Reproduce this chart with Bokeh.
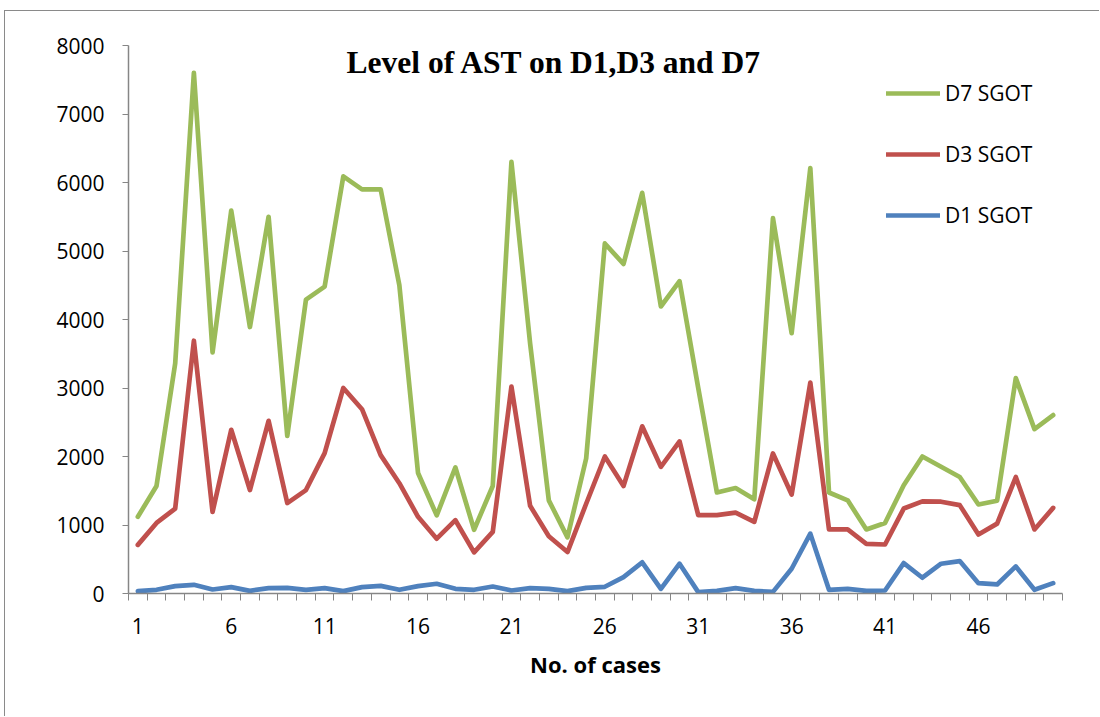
from bokeh.plotting import figure
from bokeh.models import Range1d, FixedTicker, Legend, LegendItem, Label, ColumnDataSource
from bokeh.embed import file_html
from bokeh.resources import INLINE

# ---- data ----
cases = list(range(1, 51))
d7_sgot = [1120, 1570, 3360, 7600, 3520, 5590, 3890, 5500, 2300, 4290,
           4480, 6090, 5900, 5900, 4500, 1760, 1140, 1840, 930, 1570,
           6300, 3650, 1360, 820, 1970, 5110, 4810, 5850, 4190, 4560,
           3000, 1475, 1540, 1375, 5480, 3800, 6210, 1475, 1360, 935,
           1030, 1580, 2000, 1850, 1700, 1300, 1355, 3145, 2400, 2605]
d3_sgot = [710, 1030, 1240, 3690, 1190, 2390, 1510, 2520, 1320, 1510,
           2050, 3000, 2690, 2020, 1610, 1120, 800, 1070, 600, 900,
           3020, 1280, 835, 605, 1310, 2000, 1570, 2440, 1850, 2220,
           1145, 1145, 1180, 1045, 2045, 1445, 3080, 935, 935, 725,
           715, 1240, 1345, 1340, 1290, 860, 1020, 1700, 935, 1250]
d1_sgot = [34, 54, 107, 127, 59, 93, 39, 78, 83, 54,
           78, 34, 93, 112, 54, 107, 142, 68, 54, 102,
           44, 78, 68, 34, 83, 98, 239, 455, 68, 435,
           20, 39, 78, 39, 24, 361, 874, 54, 68, 39,
           44, 444, 230, 435, 473, 151, 132, 396, 54, 151]
x_tick_values = [1, 6, 11, 16, 21, 26, 31, 36, 41, 46]
y_tick_values = [0, 1000, 2000, 3000, 4000, 5000, 6000, 7000, 8000]
series_names = ["D7 SGOT", "D3 SGOT", "D1 SGOT"]
title_text = "Level of AST on D1,D3 and D7"
x_label = "No. of cases"

src = ColumnDataSource(dict(x=cases, d7=d7_sgot, d3=d3_sgot, d1=d1_sgot))

GREEN = "#9BBB59"
RED = "#C0504D"
BLUE = "#4F81BD"
AXIS = "#868686"
FONT = "Open Sans"

p = figure(width=1095, height=706,
           x_range=Range1d(cases[0] - 0.5, cases[-1] + 0.5),
           y_range=Range1d(y_tick_values[0], y_tick_values[-1]),
           output_backend="svg", toolbar_location=None,
           min_border_left=123, min_border_right=38,
           min_border_top=34, min_border_bottom=124,
           margin=(10, 0, 0, 4),
           styles={"border-top": "1px solid #8a8a8a",
                   "border-left": "1px solid #8a8a8a"})
p.outline_line_color = None
p.xgrid.visible = False
p.ygrid.visible = False
p.background_fill_color = "white"
p.border_fill_color = "white"

r1 = p.line("x", "d1", source=src, line_color=BLUE, line_width=4.7,
            line_join="round", line_cap="round")
r3 = p.line("x", "d3", source=src, line_color=RED, line_width=4.7,
            line_join="round", line_cap="round")
r7 = p.line("x", "d7", source=src, line_color=GREEN, line_width=4.7,
            line_join="round", line_cap="round")

# x axis
xa = p.xaxis[0]
xa.ticker = FixedTicker(ticks=x_tick_values,
                        minor_ticks=[c - 0.5 for c in cases] + [cases[-1] + 0.5])
xa.major_tick_out = 0
xa.major_tick_in = 0
xa.minor_tick_out = 7
xa.minor_tick_in = 0
xa.minor_tick_line_color = AXIS
xa.axis_line_color = AXIS
xa.axis_line_width = 1.5
xa.major_label_text_font = FONT
xa.major_label_text_font_size = "21px"
xa.major_label_text_color = "black"
xa.major_label_standoff = 17
xa.axis_label = x_label
xa.axis_label_text_font = FONT
xa.axis_label_text_font_style = "bold"
xa.axis_label_text_font_size = "22px"
xa.axis_label_text_color = "black"
xa.axis_label_standoff = 12

# y axis
ya = p.yaxis[0]
ya.ticker = FixedTicker(ticks=y_tick_values)
ya.minor_tick_out = 0
ya.minor_tick_in = 0
ya.major_tick_out = 6
ya.major_tick_in = 0
ya.major_tick_line_color = AXIS
ya.axis_line_color = AXIS
ya.axis_line_width = 1.5
ya.major_label_text_font = FONT
ya.major_label_text_font_size = "21px"
ya.major_label_text_color = "black"
ya.major_label_standoff = 18

# title inside plot
p.add_layout(Label(x=23.3, y=7750, text=title_text,
                   text_font="Liberation Serif", text_font_style="bold",
                   text_font_size="31.5px", text_align="center",
                   text_baseline="alphabetic", text_color="black"))

legend = Legend(items=[LegendItem(label=series_names[0], renderers=[r7]),
                       LegendItem(label=series_names[1], renderers=[r3]),
                       LegendItem(label=series_names[2], renderers=[r1])],
                location=(758, 364), orientation="vertical",
                padding=0, margin=0, spacing=33,
                glyph_width=54, glyph_height=20, label_height=20,
                label_standoff=5,
                label_text_font=FONT, label_text_font_size="21px",
                label_text_color="black",
                border_line_color=None, background_fill_alpha=0)
p.add_layout(legend)

open("out.html", "w").write(file_html(p, INLINE))
